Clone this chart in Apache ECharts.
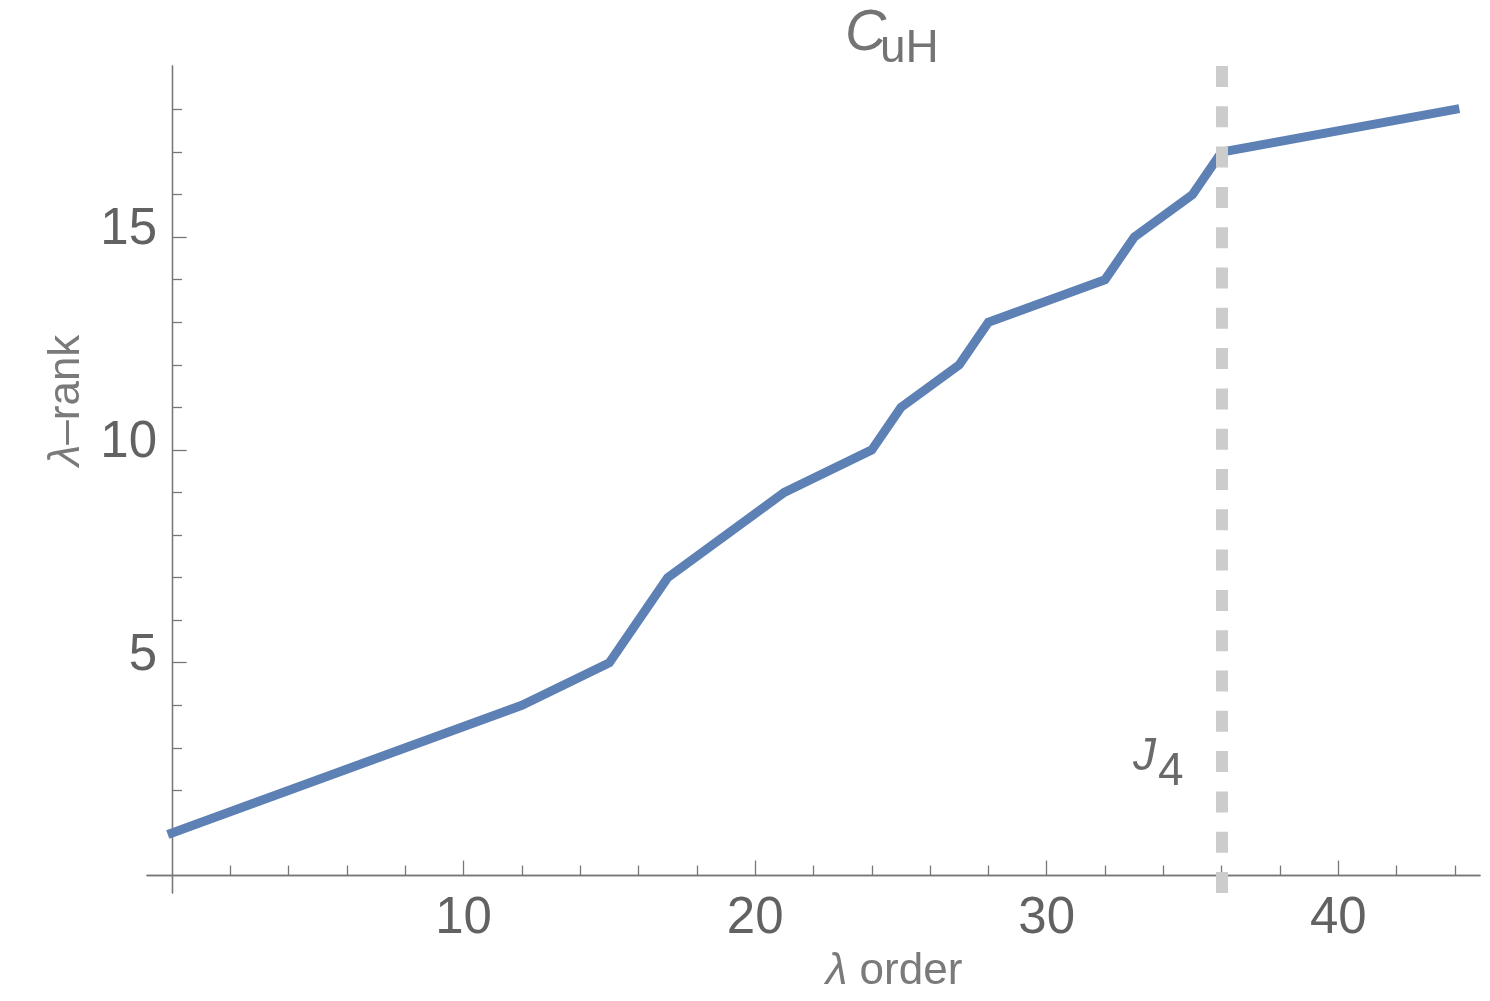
<!DOCTYPE html>
<html><head><meta charset="utf-8">
<script src="https://cdn.jsdelivr.net/npm/echarts@6/dist/echarts.min.js"></script>
<style>html,body{margin:0;padding:0;background:#fff}#c{width:1490px;height:1001px}</style>
</head><body><div id="c"></div>
<script>
// ---- data ----
const orders = [0, 12, 15, 17, 21, 24, 25, 27, 28, 32, 33, 35, 36, 44];
const ranks  = [1, 4, 5, 7, 9, 10, 11, 12, 13, 14, 15, 16, 17, 18];
const xMajorTicks = [10, 20, 30, 40];
const xMinorTicks = [2, 4, 6, 8, 12, 14, 16, 18, 22, 24, 26, 28, 32, 34, 36, 38, 42, 44];
const yMajorTicks = [5, 10, 15];
const yMinorTicks = [1, 2, 3, 4, 6, 7, 8, 9, 11, 12, 13, 14, 16, 17, 18];
const j4Order = 36;
const titleBase = 'C';
const titleSub = 'uH';
const xName = '{l|λ} order';
const yName = '{l|λ}–rank';
const markBase = 'J';
const markSub = '4';

const FONT = "'Liberation Sans', Arial, Helvetica, sans-serif";
const AX = '#777777';
const LBL = '#626262';
const NAME = '#7a7a7a';
const X_RANGE = [-0.857, 44.86];
const Y_RANGE = [-0.41, 19.02];

function xAx(major, idx) {
  return {
    type: 'value', gridIndex: 0, position: 'bottom', min: X_RANGE[0], max: X_RANGE[1],
    axisLine: { show: true, onZero: true, onZeroAxisIndex: idx, lineStyle: { color: AX, width: 1.3 } },
    axisTick: { show: true, inside: true, length: major ? 15 : 10, customValues: major ? xMajorTicks : xMinorTicks, lineStyle: { color: AX, width: 1.3 } },
    axisLabel: major ? { show: true, customValues: xMajorTicks, margin: 0.5, fontSize: 51, color: LBL, fontFamily: FONT } : { show: false },
    splitLine: { show: false }
  };
}
function yAx(major, idx) {
  return {
    type: 'value', gridIndex: 0, position: 'left', min: Y_RANGE[0], max: Y_RANGE[1],
    axisLine: { show: true, onZero: true, onZeroAxisIndex: idx, lineStyle: { color: AX, width: 1.3 } },
    axisTick: { show: true, inside: true, length: major ? 14.7 : 10, customValues: major ? yMajorTicks : yMinorTicks, lineStyle: { color: AX, width: 1.3 } },
    axisLabel: major ? { show: true, customValues: yMajorTicks, margin: -10, fontSize: 51, color: LBL, fontFamily: FONT, verticalAlign: 'bottom', lineHeight: 14 } : { show: false },
    splitLine: { show: false }
  };
}

const nameStyle = (txt) => ({
  text: txt, fontSize: 44, fontFamily: FONT, fill: NAME, align: 'center', verticalAlign: 'middle',
  rich: { l: { fontStyle: 'italic', fontSize: 44, fontFamily: FONT, fill: NAME } }
});

const chart = echarts.init(document.getElementById('c'), null, { renderer: 'canvas' });
chart.setOption({
  animation: false,
  backgroundColor: '#ffffff',
  grid: { left: 147, right: 10, top: 66, bottom: 108, containLabel: false },
  title: [
    { text: titleBase, left: 845, top: 6, padding: 0, textStyle: { fontFamily: FONT, fontSize: 57, fontStyle: 'italic', fontWeight: 'normal', color: '#747474' } },
    { text: titleSub, left: 880, top: 26, padding: 0, textStyle: { fontFamily: FONT, fontSize: 46, fontWeight: 'normal', color: '#747474' } }
  ],
  xAxis: [xAx(true, 0), xAx(false, 1)],
  yAxis: [yAx(true, 0), yAx(false, 1)],
  series: [
    {
      type: 'line', xAxisIndex: 0, yAxisIndex: 0, z: 1, data: [], silent: true,
      markLine: {
        silent: true, symbol: ['none', 'none'], label: { show: false }, animation: false,
        lineStyle: { color: '#cccccc', width: 12, type: [21, 19.3], cap: 'butt' },
        data: [{ xAxis: j4Order }]
      }
    },
    {
      type: 'line', xAxisIndex: 0, yAxisIndex: 0, z: 3, showSymbol: false, symbol: 'none',
      data: orders.map((x, i) => [x, ranks[i]]),
      lineStyle: { color: '#5E81B5', width: 9, cap: 'square', join: 'miter' }
    }
  ],
  graphic: [
    { type: 'text', x: 894, y: 972, style: nameStyle(xName) },
    { type: 'text', x: 66.5, y: 400.5, rotation: Math.PI / 2, style: nameStyle(yName) },
    { type: 'text', x: 1133, y: 757, style: { text: markBase, fontSize: 46, fontStyle: 'italic', fontFamily: FONT, fill: '#6a6a6a', align: 'left', verticalAlign: 'middle' } },
    { type: 'text', x: 1158, y: 772, style: { text: markSub, fontSize: 46, fontFamily: FONT, fill: '#6a6a6a', align: 'left', verticalAlign: 'middle' } }
  ]
});
</script></body></html>
